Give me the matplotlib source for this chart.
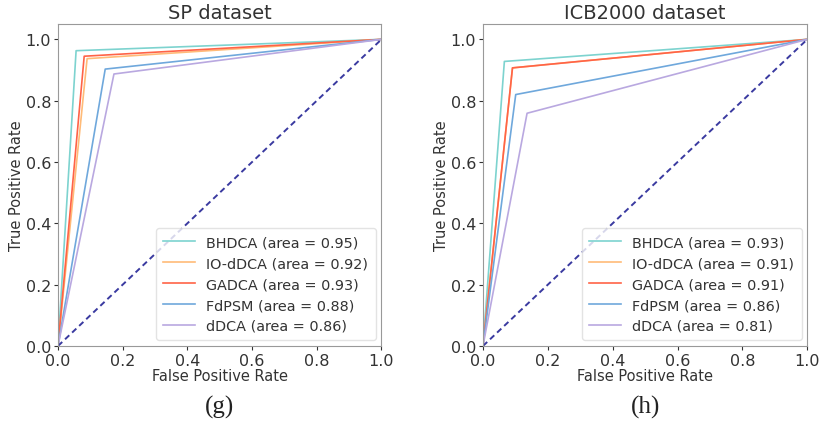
import matplotlib
matplotlib.use("Agg")
import matplotlib.pyplot as plt

# ROC points (single operating point per method)
methods = ["BHDCA", "IO-dDCA", "GADCA", "FdPSM", "dDCA"]
colors = ["#7dd3cf", "#ffbb78", "#ff6347", "#6fa8dc", "#b9a8e0"]

sp_fpr = [0.056, 0.090, 0.081, 0.146, 0.173]
sp_tpr = [0.963, 0.937, 0.945, 0.903, 0.887]
sp_auc = [0.95, 0.92, 0.93, 0.88, 0.86]

icb_fpr = [0.066, 0.091, 0.091, 0.101, 0.136]
icb_tpr = [0.928, 0.907, 0.907, 0.820, 0.759]
icb_auc = [0.93, 0.91, 0.91, 0.86, 0.81]

titles = ["SP dataset", "ICB2000 dataset"]
captions = ["(g)", "(h)"]

fig = plt.figure(figsize=(8.19, 4.27), dpi=100)
ax1 = fig.add_axes([0.0708, 0.1874, 0.395, 0.754])
ax2 = fig.add_axes([0.5897, 0.1874, 0.396, 0.754])

panels = [(ax1, sp_fpr, sp_tpr, sp_auc), (ax2, icb_fpr, icb_tpr, icb_auc)]
for i, (ax, fpr, tpr, auc) in enumerate(panels):
    for m, c, f, t, a in zip(methods, colors, fpr, tpr, auc):
        ax.plot([0, f, 1], [0, t, 1], color=c, lw=1.2,
                label=f"{m} (area = {a:.2f})")
    ax.plot([0, 1], [0, 1], color="#3a3aa0", lw=1.4, linestyle="--", dashes=(3, 2))
    ax.set_xlim(0.0, 1.0)
    ax.set_ylim(0.0, 1.05)
    ax.set_xticks([0.0, 0.2, 0.4, 0.6, 0.8, 1.0])
    ax.set_yticks([0.0, 0.2, 0.4, 0.6, 0.8, 1.0])
    ax.tick_params(labelsize=11.5, colors="#333333", length=3, pad=2)
    ax.set_xlabel("False Positive Rate", fontsize=10.5, color="#333333", labelpad=0)
    ax.set_ylabel("True Positive Rate", fontsize=10.5, color="#333333", labelpad=1)
    ax.set_title(titles[i], fontsize=14, color="#333333", pad=4)
    for s in ax.spines.values():
        s.set_color("#999999")
    leg = ax.legend(loc="lower right", fontsize=10.4, frameon=True,
                    borderaxespad=0.4, handlelength=2.2, handletextpad=0.8,
                    labelspacing=0.48, borderpad=0.5)
    leg.get_frame().set_edgecolor("#dddddd")
    for txt in leg.get_texts():
        txt.set_color("#333333")
    cx = ax.get_position().x0 + ax.get_position().width / 2
    fig.text(cx, 0.045, captions[i], ha="center", va="center",
             fontsize=18, family="Liberation Serif", color="#222222")

fig.savefig("out.png", dpi=100, facecolor="white")
